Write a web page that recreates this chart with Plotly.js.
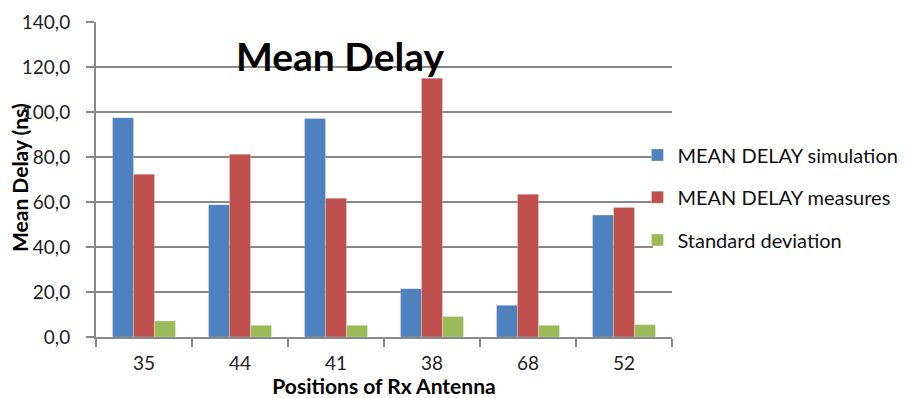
<!DOCTYPE html>
<html>
<head>
<meta charset="utf-8">
<script src="https://cdn.plot.ly/plotly-3.0.1.min.js"></script>
<style>html,body{margin:0;padding:0;background:#fff;}#chart{width:907px;height:398px;}</style>
</head>
<body>
<div id="chart"></div>
<script>
const positions = ["35", "44", "41", "38", "68", "52"];
const meanDelaySimulation = [97.5, 58.8, 97.1, 21.5, 14.1, 54.2];
const meanDelayMeasures = [72.3, 81.2, 61.7, 115.0, 63.4, 57.6];
const standardDeviation = [7.1, 5.2, 5.2, 9.1, 5.2, 5.5];
const seriesNames = ["MEAN DELAY simulation", "MEAN DELAY measures", "Standard deviation"];

const font = "Lato, 'Open Sans', sans-serif";
const colors = ["#4F81BD", "#C0504D", "#9BBB59"];
const seriesData = [meanDelaySimulation, meanDelayMeasures, standardDeviation];
const legendIds = ["legend", "legend2", "legend3"];

const traces = seriesData.map((vals, i) => ({
  type: "bar",
  name: seriesNames[i],
  x: positions,
  y: vals,
  marker: {color: colors[i], line: {color: "rgba(255,255,255,0.5)", width: 0.5}},
  legend: legendIds[i],
  showlegend: true,
  hoverinfo: "y+name"
}));

const legendYs = [0.578, 0.444, 0.308];
const legendBase = {
  x: 0.94, xanchor: "left", yanchor: "middle",
  bgcolor: "rgba(0,0,0,0)", borderwidth: 0,
  font: {family: font, size: 20, color: "#111"}
};

const layout = {
  width: 907, height: 398,
  margin: {l: 96, r: 235, t: 22, b: 61, pad: 0, autoexpand: false},
  paper_bgcolor: "#fff", plot_bgcolor: "#fff",
  separators: ", ",
  showlegend: true,
  barmode: "group",
  bargap: 0.344,
  bargroupgap: 0,
  font: {family: font, size: 19, color: "#222"},
  title: {
    text: "<b>Mean Delay</b>",
    font: {family: font, size: 39, color: "#000"},
    x: 340 / 907, xanchor: "center", xref: "container",
    y: 1 - 57 / 398, yanchor: "middle", yref: "container"
  },
  xaxis: {
    type: "category",
    tickson: "boundaries",
    ticks: "outside", ticklen: 8, tickwidth: 2, tickcolor: "#888",
    showline: true, linecolor: "#888", linewidth: 2,
    showgrid: false,
    ticklabelstandoff: 8,
    automargin: false,
    tickfont: {family: font, size: 19, color: "#222"},
    title: {text: "<b>Positions of Rx Antenna</b>", font: {family: font, size: 21, color: "#000"}, standoff: 0}
  },
  yaxis: {
    range: [0, 140], dtick: 20, tickformat: ".1f",
    ticks: "outside", ticklen: 8, tickwidth: 2, tickcolor: "#888",
    showline: true, linecolor: "#888", linewidth: 2,
    showgrid: true, gridcolor: "#888", gridwidth: 2,
    zeroline: false,
    automargin: false,
    ticklabelstandoff: 12,
    tickfont: {family: font, size: 19, color: "#222"}
  },
  annotations: [{
    text: "<b>Mean Delay (ns)</b>",
    textangle: -90,
    xref: "paper", yref: "paper",
    x: (20 - 96) / 576, y: (336.7 - 178) / 314.4,
    xanchor: "center", yanchor: "middle",
    showarrow: false,
    font: {family: font, size: 21, color: "#000"}
  }],
  shapes: [{
    type: "rect", layer: "above", xref: "paper", yref: "y",
    x0: (653 - 96) / 576, x1: 1.01, y0: 32, y1: 90,
    fillcolor: "#fff", line: {width: 0}
  }],
  legend: Object.assign({}, legendBase, {y: legendYs[0]}),
  legend2: Object.assign({}, legendBase, {y: legendYs[1]}),
  legend3: Object.assign({}, legendBase, {y: legendYs[2]})
};

Plotly.newPlot("chart", traces, layout, {displayModeBar: false, responsive: false});
</script>
</body>
</html>
